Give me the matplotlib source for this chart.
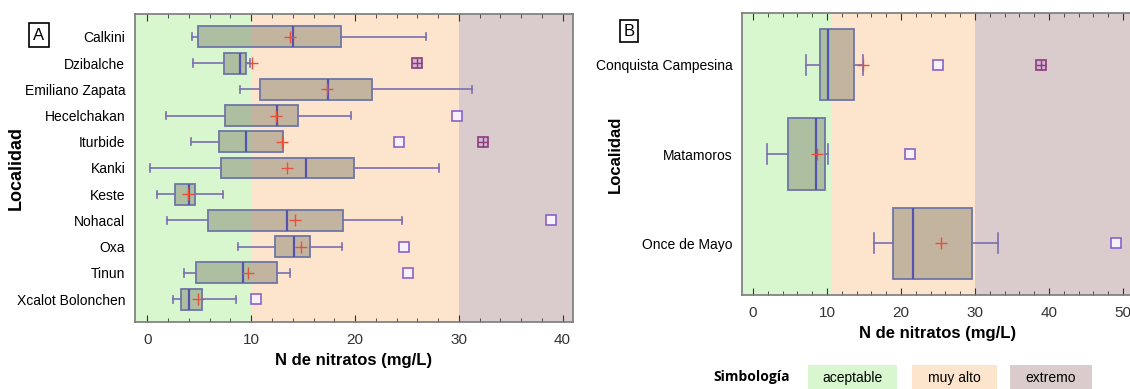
import numpy as np
import matplotlib
matplotlib.use("Agg")
import matplotlib.pyplot as plt
from matplotlib.patches import Rectangle
from matplotlib.ticker import MultipleLocator

plt.rcParams['font.family'] = ['Liberation Sans', 'DejaVu Sans']

# ---- Panel A data ----
loc_a = ['Calkini', 'Dzibalche', 'Emiliano Zapata', 'Hecelchakan', 'Iturbide', 'Kanki',
         'Keste', 'Nohacal', 'Oxa', 'Tinun', 'Xcalot Bolonchen']
whislo_a = [4.3, 4.4, 8.9, 1.8, 4.2, 0.2, 0.9, 1.9, 8.7, 3.5, 2.5]
q1_a = [4.9, 7.4, 10.8, 7.5, 6.9, 7.1, 2.7, 5.8, 12.3, 4.7, 3.2]
med_a = [14.0, 8.9, 17.4, 12.5, 9.5, 15.3, 4.0, 13.4, 14.1, 9.2, 4.0]
q3_a = [18.6, 9.5, 21.6, 14.5, 13.1, 19.9, 4.6, 18.8, 15.7, 12.5, 5.3]
whishi_a = [26.8, 9.9, 31.3, 19.6, 13.1, 28.1, 7.3, 24.5, 18.7, 13.7, 8.5]
mean_a = [13.7, 10.1, 17.3, 12.4, 13.0, 13.4, 3.9, 14.2, 14.8, 9.7, 4.9]
near_out_a = [[], [], [], [29.8], [24.2], [], [], [38.9], [24.7], [25.1], [10.5]]
far_out_a = [[], [26.0], [], [], [32.3], [], [], [], [], [], []]

# ---- Panel B data ----
loc_b = ['Conquista Campesina', 'Matamoros', 'Once de Mayo']
whislo_b = [7.2, 1.9, 16.4]
q1_b = [9.1, 4.7, 18.9]
med_b = [10.1, 8.5, 21.6]
q3_b = [13.6, 9.7, 29.6]
whishi_b = [14.9, 10.1, 33.1]
mean_b = [14.9, 8.6, 25.4]
near_out_b = [[25.0], [21.2], [49.0]]
far_out_b = [[38.9], [], []]

# categories of the legend
bands = [('aceptable', '#d8f7cf'), ('muy alto', '#fde4cd'), ('extremo', '#dacccc')]

BOX_FACE = (0.45, 0.45, 0.38, 0.42)
EDGE = '#6e76a6'
WHISK = '#7a6fb0'


def draw_panel(ax, names, wlo, q1, med, q3, whi, means, near, far, green_end, xlim, capw):
    ax.axvspan(xlim[0], green_end, color=bands[0][1], lw=0, zorder=0)
    ax.axvspan(green_end, 30, color=bands[1][1], lw=0, zorder=0)
    ax.axvspan(30, xlim[1], color=bands[2][1], lw=0, zorder=0)

    stats = []
    for i in range(len(names)):
        stats.append(dict(whislo=wlo[i], q1=q1[i], med=med[i], q3=q3[i], whishi=whi[i],
                          mean=means[i], fliers=near[i], label=names[i]))
    pos = np.arange(len(names))
    ax.bxp(stats, positions=pos, vert=False, widths=0.8, capwidths=capw,
           patch_artist=True, showmeans=True, showfliers=True,
           boxprops=dict(facecolor=BOX_FACE, edgecolor=EDGE, linewidth=1.3),
           medianprops=dict(color='#5552b0', linewidth=1.6),
           whiskerprops=dict(color=WHISK, linewidth=1.2),
           capprops=dict(color=WHISK, linewidth=1.2),
           meanprops=dict(marker='+', markeredgecolor='#e8503a', markersize=8, markeredgewidth=1.0),
           flierprops=dict(marker='s', markerfacecolor='#f6f2fb', markeredgecolor='#8a62c8',
                           markersize=6.5, markeredgewidth=1.2))
    for i, vals in enumerate(far):
        for v in vals:
            ax.plot(v, i, marker='s', ms=6.5, mfc='#d3b3d3', mec='#8a3d7a', mew=1.2, zorder=5)
            ax.plot(v, i, marker='+', ms=6.5, mec='#8a3d7a', mew=1.0, zorder=6)

    ax.set_xlim(*xlim)
    ax.set_ylim(len(names) - 0.42, -0.58) if len(names) < 5 else ax.set_ylim(len(names) - 0.13, -0.87)
    ax.set_yticks(pos)
    ax.set_yticklabels(names, fontsize=10)
    ax.xaxis.set_major_locator(MultipleLocator(10))
    ax.xaxis.set_minor_locator(MultipleLocator(2))
    ax.tick_params(axis='x', which='both', direction='in', top=True, bottom=True,
                   colors='#333333', labelsize=11, pad=8)
    ax.tick_params(axis='x', which='major', length=5)
    ax.tick_params(axis='x', which='minor', length=3)
    ax.tick_params(axis='y', length=0, pad=7)
    for s in ax.spines.values():
        s.set_color('#7a7a7a')
        s.set_linewidth(1.2)
    ax.set_xlabel('N de nitratos (mg/L)', fontsize=12, fontweight='bold', labelpad=4)
    ax.set_ylabel('Localidad', fontsize=13, fontweight='bold')


fig = plt.figure(figsize=(11.3, 3.89), dpi=100)
ax_a = fig.add_axes([135 / 1130, 1 - 322 / 389, 438 / 1130, 308 / 389])
ax_b = fig.add_axes([742 / 1130, 1 - 295 / 389, 392 / 1130, 282 / 389])

draw_panel(ax_a, loc_a, whislo_a, q1_a, med_a, q3_a, whishi_a, mean_a, near_out_a, far_out_a,
           10.0, (-1.2, 41.0), 0.28)
draw_panel(ax_b, loc_b, whislo_b, q1_b, med_b, q3_b, whishi_b, mean_b, near_out_b, far_out_b,
           10.7, (-1.5, 51.5), 0.22)
ax_a.yaxis.set_label_coords(-0.252, 0.5)
ax_b.yaxis.set_label_coords(-0.305, 0.5)
ax_b.set_ylabel('Localidad', fontsize=12, fontweight='bold')

# panel letters
fig.text(39 / 1130, 1 - 35 / 389, 'A', fontsize=12, ha='center', va='center',
         bbox=dict(boxstyle='square,pad=0.25', fc='white', ec='black', lw=1.2))
fig.text(629 / 1130, 1 - 31 / 389, 'B', fontsize=12, ha='center', va='center',
         bbox=dict(boxstyle='square,pad=0.2', fc='white', ec='black', lw=1.2))

# Simbologia legend
fig.text(752 / 1130, 1 - 377 / 389, 'Simbología', fontsize=10, fontweight='bold',
         ha='center', va='center', family=['Open Sans', 'DejaVu Sans'])
box_x = [(808, 897), (912, 997), (1010, 1092)]
for (lab, col), (x0, x1) in zip(bands, box_x):
    fig.add_artist(Rectangle((x0 / 1130, 0), (x1 - x0) / 1130, 24 / 389,
                             transform=fig.transFigure, fc=col, ec='none'))
    fig.text((x0 + x1) / 2 / 1130, 1 - 378 / 389, lab, fontsize=10, ha='center', va='center')

fig.savefig('out.png', dpi=100)
